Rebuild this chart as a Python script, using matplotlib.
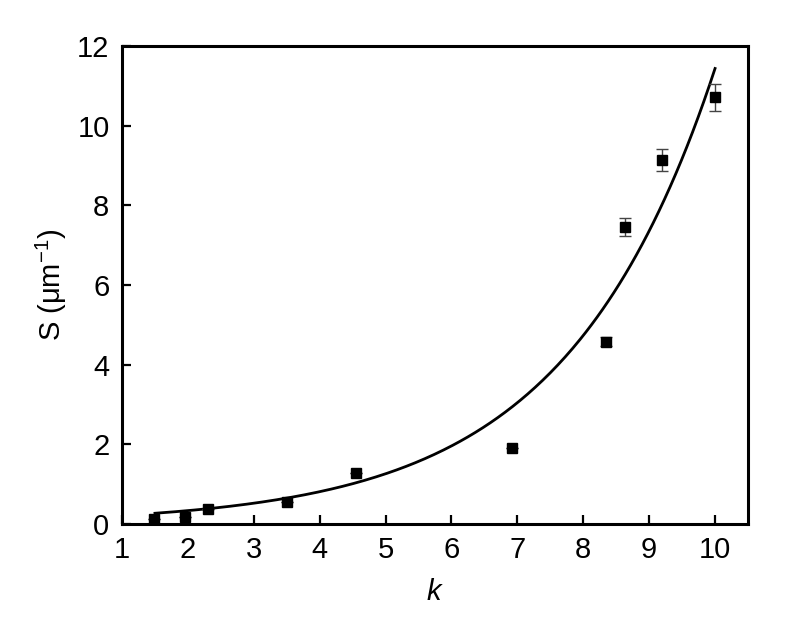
import numpy as np
import matplotlib
matplotlib.use("Agg")
import matplotlib.pyplot as plt

plt.rcParams['font.family'] = ['Liberation Sans', 'DejaVu Sans']
plt.rcParams['mathtext.fontset'] = 'custom'
plt.rcParams['mathtext.rm'] = 'Liberation Sans'
plt.rcParams['mathtext.it'] = 'Liberation Sans:italic'

k_values = [1.49, 1.96, 2.31, 3.51, 4.55, 6.92, 8.34, 8.63, 9.20, 10.0]
s_values = [0.12, 0.17, 0.38, 0.55, 1.28, 1.92, 4.58, 7.45, 9.14, 10.71]
s_errors = [0.0, 0.0, 0.0, 0.0, 0.0, 0.0, 0.12, 0.22, 0.28, 0.33]

# exponential fit S = a * exp(b * k)
fit_a = 0.139
fit_b = 0.441
fit_k_range = [1.5, 10.0]

x_ticks = [1, 2, 3, 4, 5, 6, 7, 8, 9, 10]
y_ticks = [0, 2, 4, 6, 8, 10, 12]

fig = plt.figure(figsize=(7.96, 6.18), dpi=100)
ax = fig.add_axes([122/796, 1-524/618, (748-122)/796, (524-46)/618])

kk = np.linspace(fit_k_range[0], fit_k_range[1], 300)
ax.plot(kk, fit_a*np.exp(fit_b*kk), color='black', lw=2.0, zorder=2)

ax.errorbar(k_values, s_values, yerr=s_errors, fmt='none', ecolor='#444444',
            elinewidth=1.0, capsize=4, capthick=1.0, zorder=3)
ax.plot(k_values, s_values, 's', color='black', ms=6.7, zorder=4)

ax.set_xlim(1, 10.5)
ax.set_ylim(0, 12)
ax.set_xticks(x_ticks)
ax.set_yticks(y_ticks)
ax.tick_params(direction='in', length=6.5, width=1.6, labelsize=21, pad=9,
               top=False, right=False)
for s in ax.spines.values():
    s.set_linewidth(2.2)

ax.set_xlabel('$k$', fontsize=21, labelpad=10)
ax.set_ylabel('S (μm$^{−1}$)', fontsize=21, labelpad=6)

fig.savefig('out.png', dpi=100)
